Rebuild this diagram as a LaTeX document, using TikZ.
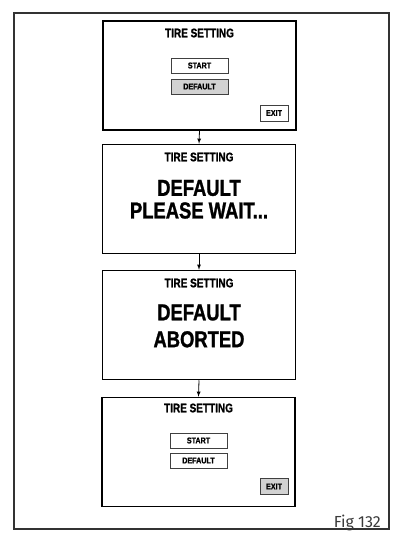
\documentclass[tikz,border=0pt]{standalone}
\usepackage{fontspec}
\setmainfont{Fira Sans}
\newfontfamily\condfont{Liberation Sans}[FakeStretch=0.8, BoldFeatures={FakeBold=1.2}]
\newfontfamily\btnfont{Liberation Sans}[FakeStretch=0.85, BoldFeatures={FakeBold=1.2}]
\definecolor{framegray}{HTML}{333333}
\definecolor{btngray}{HTML}{D2D2D2}
\definecolor{figgray}{HTML}{3A3A3A}
\begin{document}
\begin{tikzpicture}[x=1pt,y=-1pt,
 panel/.style={draw=black, line width=1.5pt, minimum width=193pt, minimum height=109pt, inner sep=0pt},
 btn/.style={draw=black!75, line width=0.9pt, fill=white, minimum width=57pt, minimum height=15pt, inner sep=0pt, font=\btnfont\bfseries\fontsize{8.4}{9}\selectfont},
 exitbtn/.style={btn, minimum width=28pt, minimum height=16pt},
 title/.style={inner sep=0pt, font=\condfont\bfseries\fontsize{12.5}{14}\selectfont},
 msg/.style={inner sep=0pt, font=\condfont\bfseries\fontsize{23}{26}\selectfont},
 flow/.style={line width=0.8pt, -latex}]
\useasboundingbox (0,0) rectangle (402,544);
%%% outer frame
\draw[framegray, line width=1.3pt] (14,13) rectangle (389,529);
%%% screen 1
\node[panel] (p1) at (199.5,75.5) {};
\node[title] (t1) at (199.5,33) {TIRE SETTING};
\node[btn] (start1) at (199.5,65.5) {START};
\node[btn, fill=btngray] (default1) at (199.5,86.5) {DEFAULT};
\node[exitbtn] (exit1) at (274,113) {EXIT};
%%% screen 2
\node[panel] (p2) at (199,199) {};
\node[title] (t2) at (199,157) {TIRE SETTING};
\node[msg] (m2a) at (199,188) {DEFAULT};
\node[msg] (m2b) at (199,210.5) {PLEASE WAIT...};
%%% screen 3
\node[panel] (p3) at (199,325) {};
\node[title] (t3) at (199,283) {TIRE SETTING};
\node[msg] (m3a) at (199,312.5) {DEFAULT};
\node[msg] (m3b) at (199,339.3) {ABORTED};
%%% screen 4
\node[panel] (p4) at (198.5,452) {};
\node[title] (t4) at (198.5,408) {TIRE SETTING};
\node[btn] (start4) at (198.5,440.5) {START};
\node[btn] (default4) at (198.5,460.5) {DEFAULT};
\node[exitbtn, fill=btngray] (exit4) at (274,486.5) {EXIT};
%%%%
\draw[flow] (p1.south) -- (p2.north);
\draw[flow] (p2.south) -- (p3.north);
\draw[flow] (p3.south) -- (p4.north);
%%% caption
\node[anchor=base east, inner sep=0pt, text=figgray, font=\fontsize{16}{18}\selectfont] (fig) at (381,527) {Fig 132};
\node[anchor=base east, inner sep=0pt, text=figgray, font=\fontsize{16}{18}\selectfont] (page) at (387,555.5) {211};
\end{tikzpicture}
\end{document}
